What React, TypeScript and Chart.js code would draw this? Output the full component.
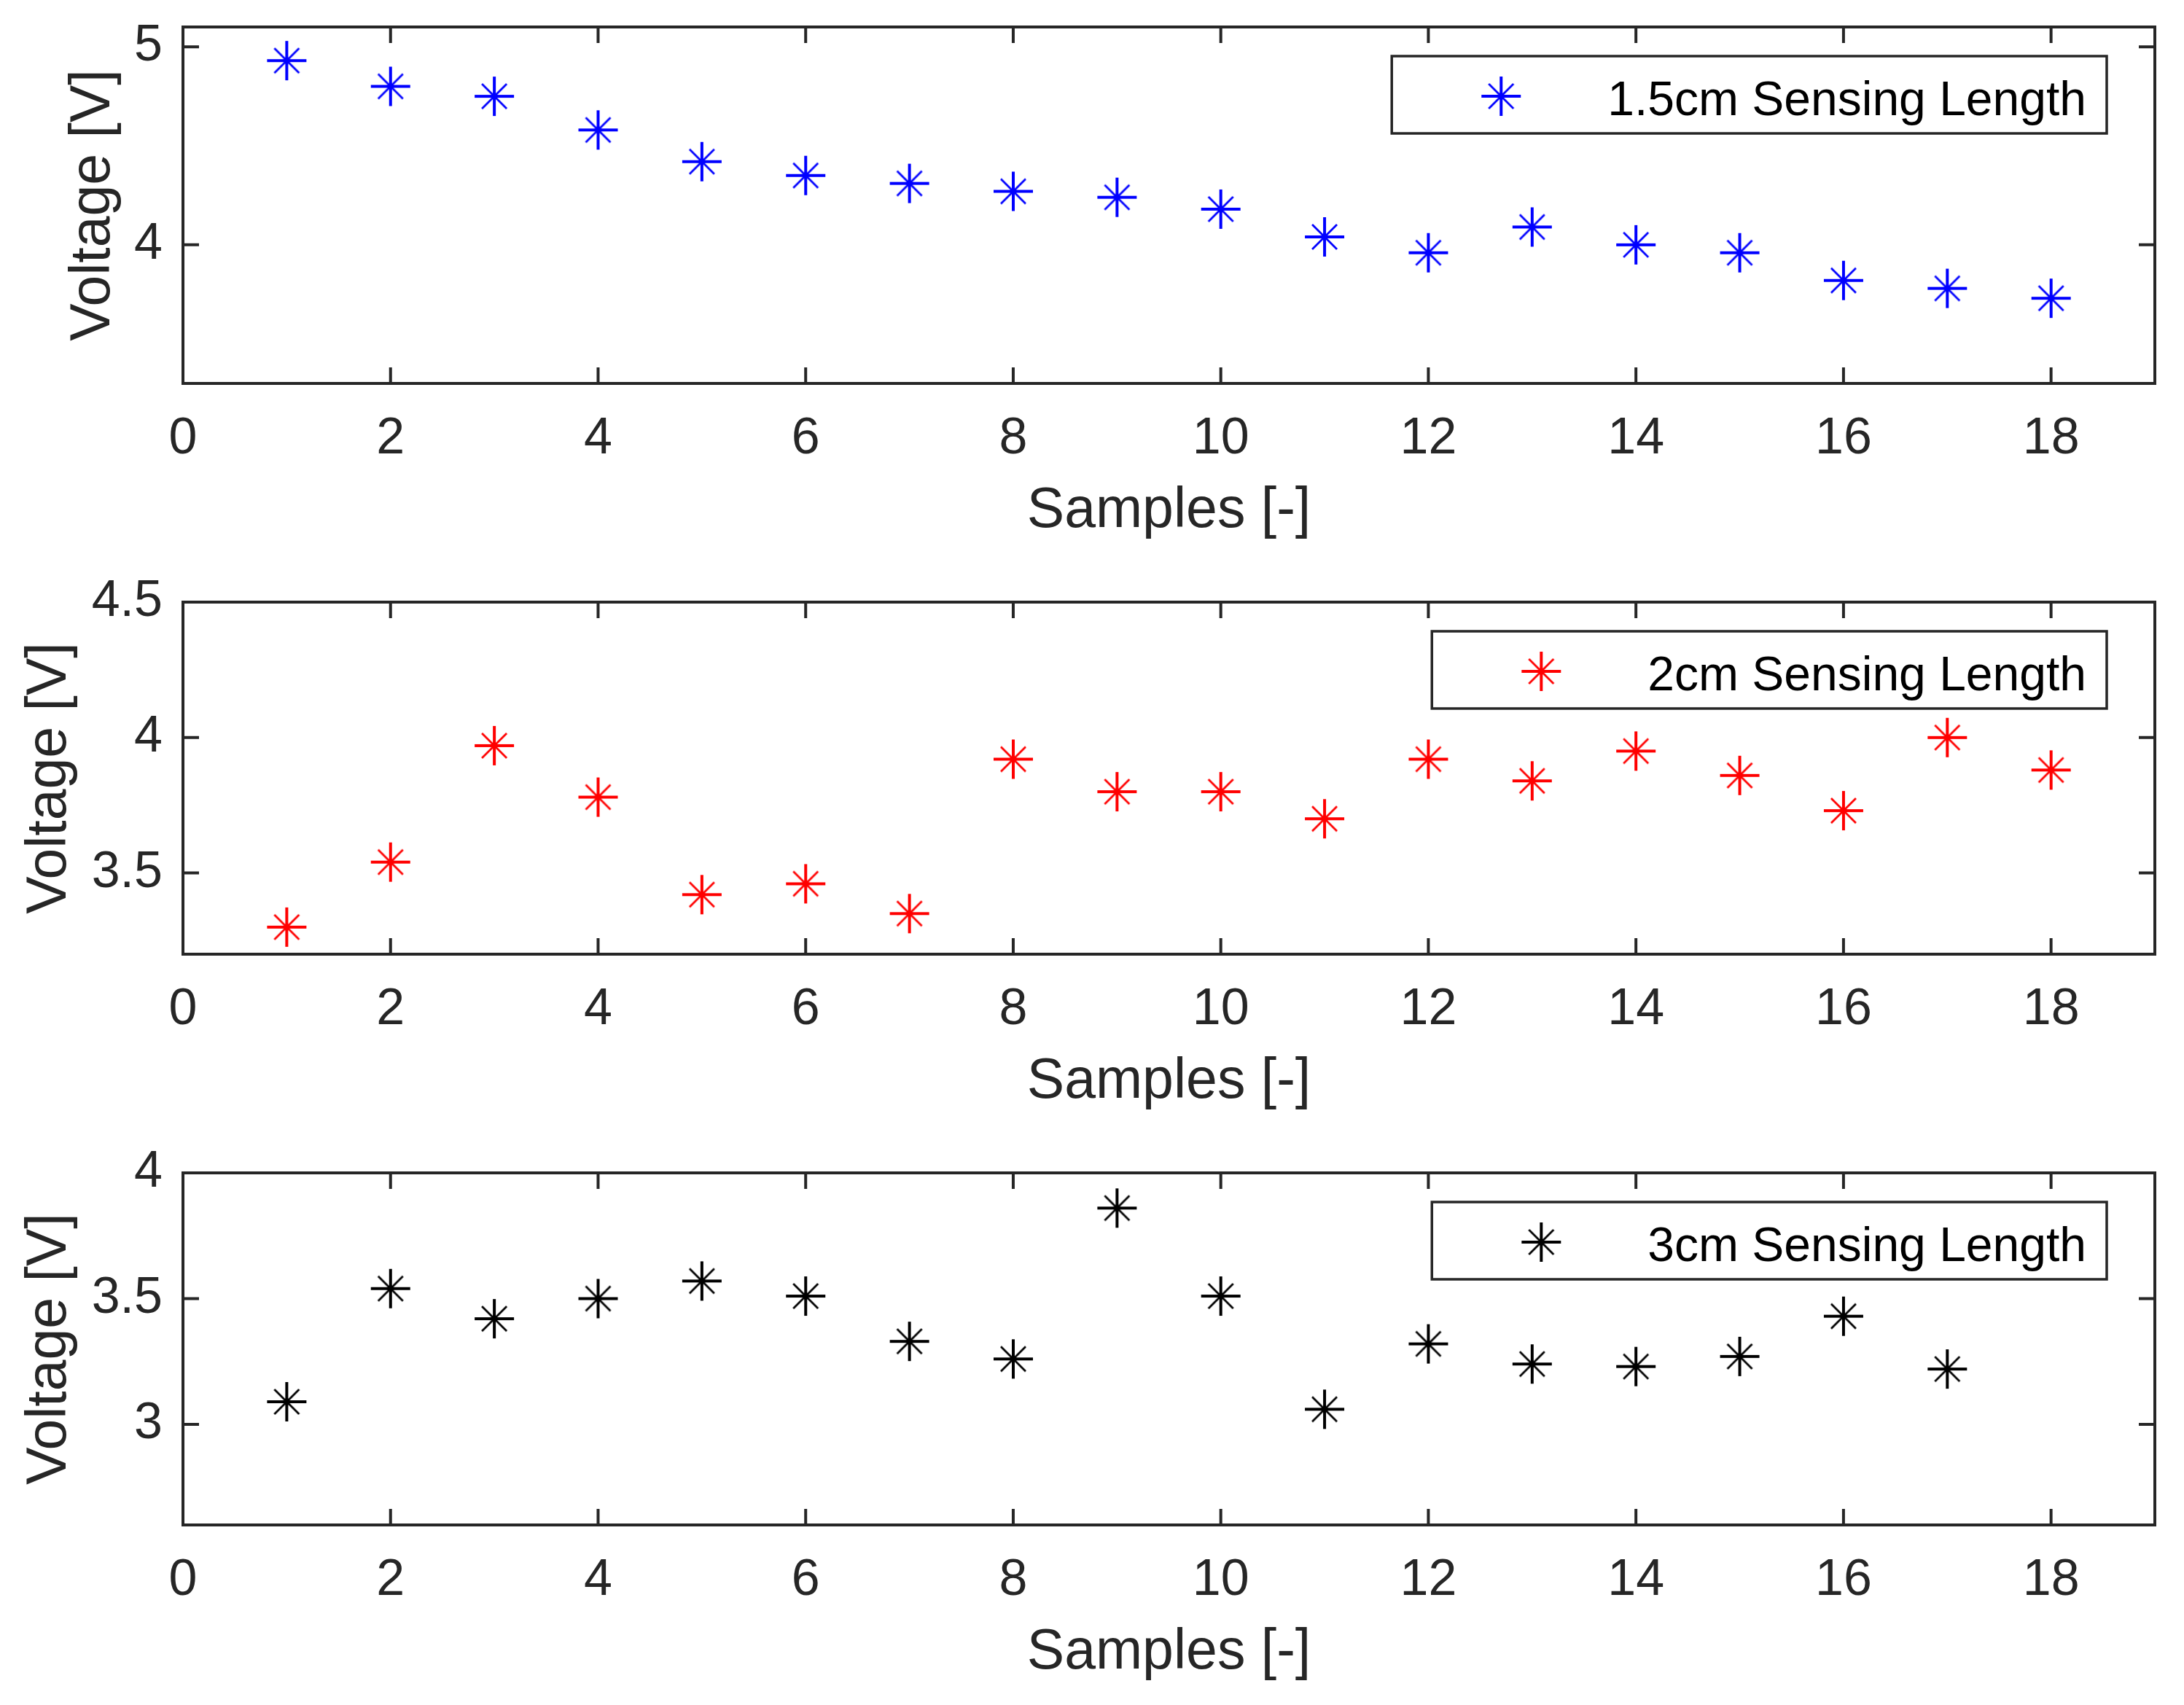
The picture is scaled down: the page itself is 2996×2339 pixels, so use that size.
import React, { useEffect, useRef } from 'react';
import { Chart, registerables } from 'chart.js';
import type { ChartConfiguration, Plugin } from 'chart.js';

Chart.register(...registerables);

// --- data ---
const samples18 = [1, 2, 3, 4, 5, 6, 7, 8, 9, 10, 11, 12, 13, 14, 15, 16, 17, 18];
const samples17 = [1, 2, 3, 4, 5, 6, 7, 8, 9, 10, 11, 12, 13, 14, 15, 16, 17];

const voltage15cm = [4.93, 4.8, 4.75, 4.58, 4.42, 4.35, 4.31, 4.27, 4.24, 4.18, 4.04, 3.96, 4.09, 4.0, 3.96, 3.82, 3.78, 3.73];
const voltage2cm = [3.3, 3.54, 3.97, 3.78, 3.42, 3.46, 3.35, 3.92, 3.8, 3.8, 3.7, 3.92, 3.84, 3.95, 3.86, 3.73, 4.0, 3.88];
const voltage3cm = [3.09, 3.54, 3.42, 3.5, 3.57, 3.51, 3.33, 3.26, 3.86, 3.51, 3.06, 3.32, 3.24, 3.23, 3.27, 3.43, 3.22];

const xTicks = [0, 2, 4, 6, 8, 10, 12, 14, 16, 18];
const yTicks15 = [4, 5];
const yTicks2 = [3.5, 4, 4.5];
const yTicks3 = [3, 3.5, 4];

const AXIS = '#262626';
const FONT = '"Liberation Sans", Arial, Helvetica, sans-serif';

// MATLAB-like '*' marker
function makeAsterisk(color: string): HTMLCanvasElement {
  const c = document.createElement('canvas');
  c.width = 60;
  c.height = 60;
  const g = c.getContext('2d')!;
  g.strokeStyle = color;
  g.lineWidth = 4;
  g.beginPath();
  g.moveTo(3, 30);
  g.lineTo(57, 30);
  g.moveTo(30, 3);
  g.lineTo(30, 57);
  g.stroke();
  g.lineWidth = 2.8;
  g.beginPath();
  g.moveTo(13, 13);
  g.lineTo(47, 47);
  g.moveTo(47, 13);
  g.lineTo(13, 47);
  g.stroke();
  return c;
}

interface SubplotProps {
  label: string;
  color: string;
  xs: number[];
  ys: number[];
  yMin: number;
  yMax: number;
  yTicks: number[];
  plotTop: number;
  plotBottom: number;
  yTitlePad: number;
}

const PAD_TOP = 80;
const PAD_BOTTOM = 20;
const X_AXIS_H = 222;

const Subplot: React.FC<SubplotProps> = (p) => {
  const canvasRef = useRef<HTMLCanvasElement>(null);
  const chartRef = useRef<Chart | null>(null);

  useEffect(() => {
    if (!canvasRef.current) return;
    if (chartRef.current) chartRef.current.destroy();

    const marker = makeAsterisk(p.color);

    // box + inward ticks, drawn over the data like MATLAB
    const axesBox: Plugin = {
      id: 'axesBox',
      afterDatasetsDraw(chart) {
        const { ctx, chartArea: a } = chart;
        const xs = chart.scales.x;
        const ys = chart.scales.y;
        ctx.save();
        ctx.strokeStyle = AXIS;
        ctx.lineWidth = 4;
        ctx.beginPath();
        xs.ticks.forEach((t) => {
          const px = xs.getPixelForValue(t.value);
          ctx.moveTo(px, a.bottom);
          ctx.lineTo(px, a.bottom - 22);
          ctx.moveTo(px, a.top);
          ctx.lineTo(px, a.top + 22);
        });
        ys.ticks.forEach((t) => {
          const py = ys.getPixelForValue(t.value);
          ctx.moveTo(a.left, py);
          ctx.lineTo(a.left + 22, py);
          ctx.moveTo(a.right, py);
          ctx.lineTo(a.right - 22, py);
        });
        ctx.stroke();
        ctx.strokeRect(a.left, a.top, a.right - a.left, a.bottom - a.top);
        ctx.restore();
      },
    };

    // legend box in the upper right of the axes
    const boxLegend: Plugin = {
      id: 'boxLegend',
      afterDraw(chart) {
        const { ctx, chartArea: a } = chart;
        const text = chart.data.datasets[0].label || '';
        ctx.save();
        ctx.font = `66px ${FONT}`;
        const tw = ctx.measureText(text).width;
        const boxRight = a.right - 66;
        const textRight = boxRight - 28;
        const boxLeft = textRight - tw - 296;
        const boxTop = a.top + 40;
        const boxH = 106;
        ctx.fillStyle = '#ffffff';
        ctx.fillRect(boxLeft, boxTop, boxRight - boxLeft, boxH);
        ctx.strokeStyle = AXIS;
        ctx.lineWidth = 3.5;
        ctx.strokeRect(boxLeft, boxTop, boxRight - boxLeft, boxH);
        ctx.drawImage(marker, boxLeft + 150 - 30, boxTop + 55 - 30);
        ctx.fillStyle = '#000000';
        ctx.textAlign = 'right';
        ctx.textBaseline = 'middle';
        ctx.fillText(text, textRight, boxTop + 63);
        ctx.restore();
      },
    };

    const config: ChartConfiguration<'scatter'> = {
      type: 'scatter',
      data: {
        datasets: [
          {
            label: p.label,
            data: p.xs.map((x, i) => ({ x, y: p.ys[i] })),
            pointStyle: marker,
            pointRadius: 27,
            borderColor: p.color,
            backgroundColor: p.color,
          },
        ],
      },
      options: {
        responsive: true,
        maintainAspectRatio: false,
        animation: false,
        devicePixelRatio: 1,
        layout: { padding: { top: PAD_TOP, bottom: PAD_BOTTOM, left: 0, right: 40 } },
        plugins: {
          legend: { display: false },
          tooltip: { enabled: false },
        },
        scales: {
          x: {
            type: 'linear',
            position: 'bottom',
            min: 0,
            max: 19,
            grid: { display: false, drawTicks: false },
            border: { display: false },
            afterBuildTicks: (scale) => {
              scale.ticks = xTicks.map((v) => ({ value: v }));
            },
            afterFit: (scale) => {
              scale.height = X_AXIS_H;
            },
            ticks: {
              padding: 35,
              maxRotation: 0,
              autoSkip: false,
              color: AXIS,
              font: { family: FONT, size: 70 },
              callback: (v) => String(v),
            },
            title: {
              display: true,
              text: 'Samples [-]',
              color: AXIS,
              font: { family: FONT, size: 77 },
              padding: { top: 0, bottom: 0 },
            },
          },
          y: {
            type: 'linear',
            min: p.yMin,
            max: p.yMax,
            grid: { display: false, drawTicks: false },
            border: { display: false },
            afterBuildTicks: (scale) => {
              scale.ticks = p.yTicks.map((v) => ({ value: v }));
            },
            afterFit: (scale) => {
              scale.width = 251;
            },
            ticks: {
              padding: 28,
              autoSkip: false,
              color: AXIS,
              font: { family: FONT, size: 70 },
              callback: (v) => String(v),
            },
            title: {
              display: true,
              text: 'Voltage [V]',
              color: AXIS,
              font: { family: FONT, size: 77 },
              padding: { top: p.yTitlePad, bottom: 0 },
            },
          },
        },
      },
      plugins: [axesBox, boxLegend],
    };

    chartRef.current = new Chart(canvasRef.current, config);

    return () => {
      if (chartRef.current) {
        chartRef.current.destroy();
        chartRef.current = null;
      }
    };
  }, []);

  const top = p.plotTop - PAD_TOP;
  const height = PAD_TOP + (p.plotBottom - p.plotTop) + X_AXIS_H + PAD_BOTTOM;

  return (
    <div style={{ position: 'absolute', left: 0, top, width: 2996, height }}>
      <canvas ref={canvasRef}></canvas>
    </div>
  );
};

const App: React.FC = () => {
  return (
    <div
      style={{
        position: 'absolute',
        left: 0,
        top: 0,
        width: 2996,
        height: 2339,
        background: '#ffffff',
        overflow: 'hidden',
      }}
    >
      <Subplot
        label="1.5cm Sensing Length"
        color="#0000ff"
        xs={samples18}
        ys={voltage15cm}
        yMin={3.3}
        yMax={5.1}
        yTicks={yTicks15}
        plotTop={37}
        plotBottom={526}
        yTitlePad={83}
      />
      <Subplot
        label="2cm Sensing Length"
        color="#ff0000"
        xs={samples18}
        ys={voltage2cm}
        yMin={3.2}
        yMax={4.5}
        yTicks={yTicks2}
        plotTop={826}
        plotBottom={1309}
        yTitlePad={23}
      />
      <Subplot
        label="3cm Sensing Length"
        color="#000000"
        xs={samples17}
        ys={voltage3cm}
        yMin={2.6}
        yMax={4}
        yTicks={yTicks3}
        plotTop={1609}
        plotBottom={2092}
        yTitlePad={23}
      />
    </div>
  );
};

export default App;
